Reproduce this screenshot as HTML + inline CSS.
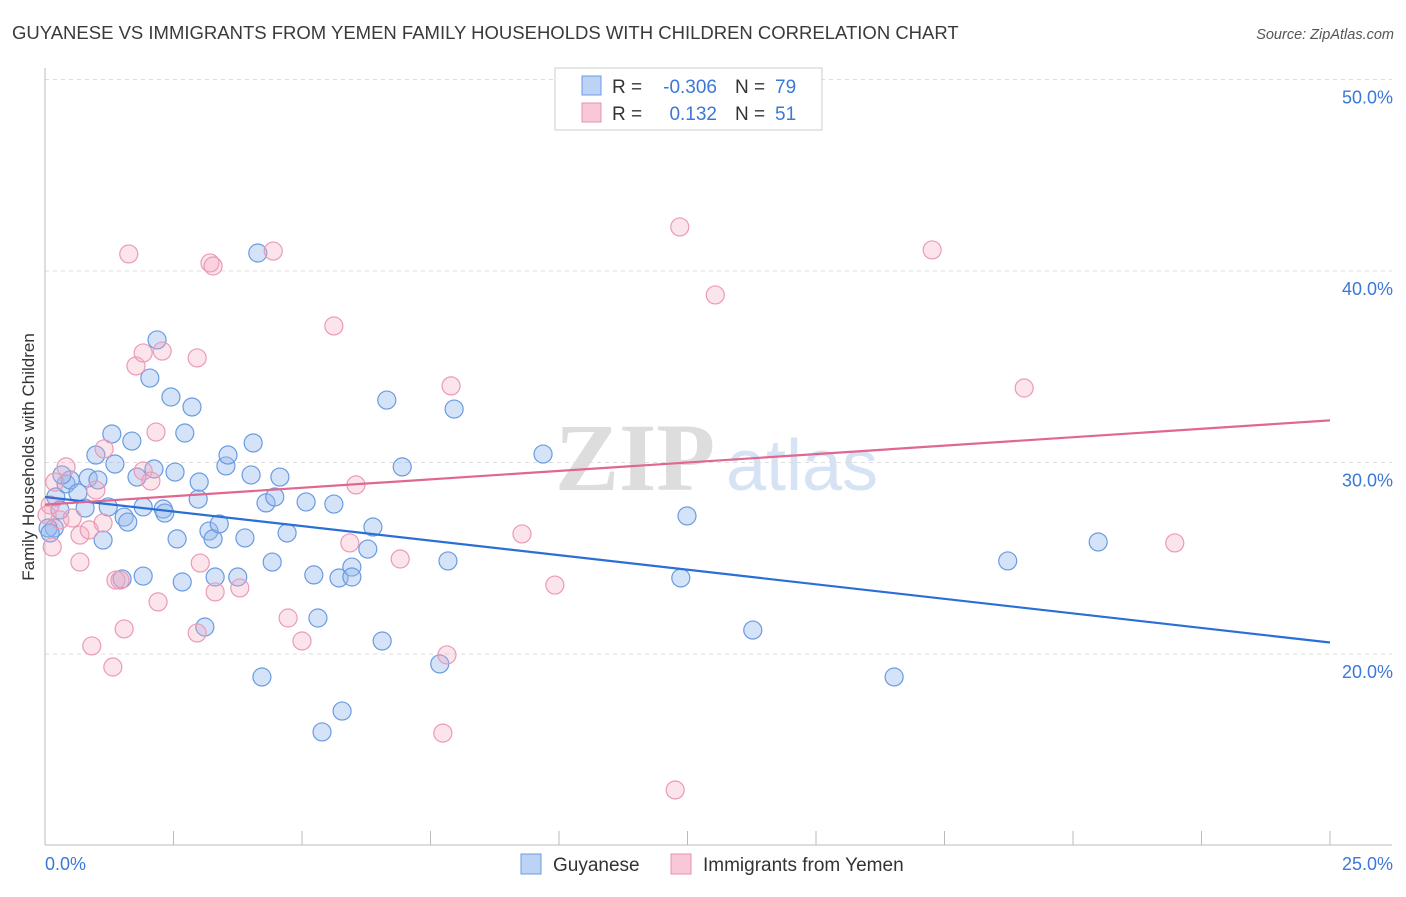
<!DOCTYPE html>
<html><head><meta charset="utf-8"><style>
body{margin:0;background:#fff;font-family:"Liberation Sans",sans-serif}
</style></head><body>
<svg id="chart" width="1406" height="892" xmlns="http://www.w3.org/2000/svg" font-family="Liberation Sans, sans-serif">
<text x="12" y="39" font-size="18.5" fill="#3a3a3a">GUYANESE VS IMMIGRANTS FROM YEMEN FAMILY HOUSEHOLDS WITH CHILDREN CORRELATION CHART</text>
<text x="1394" y="39" font-size="14.5" fill="#555" text-anchor="end" font-style="italic">Source: ZipAtlas.com</text>
<g>
<text x="635" y="490" font-size="96" fill="#ddd" text-anchor="middle" font-family="Liberation Serif, serif" font-weight="bold">ZIP</text>
<text x="802" y="490" font-size="72" fill="#d5e3f5" text-anchor="middle">atlas</text>
</g>
<g id="grid"></g>
<g id="axes"></g>
<g id="marks"></g>
<text transform="translate(34,457) rotate(-90)" font-size="17" fill="#333" text-anchor="middle">Family Households with Children</text>
<g>
<rect x="555" y="68" width="267" height="62" fill="#fff" stroke="#ccc"/>
<rect x="582" y="76" width="19" height="19" fill="#bcd3f5" stroke="#6a9be0"/>
<rect x="582" y="103" width="19" height="19" fill="#f9c8d6" stroke="#e890b0"/>
<text x="612" y="93" font-size="19" fill="#333">R =</text>
<text x="717" y="93" font-size="19" fill="#3b78d8" text-anchor="end">-0.306</text>
<text x="735" y="93" font-size="19" fill="#333">N =</text>
<text x="775" y="93" font-size="19" fill="#3b78d8">79</text>
<text x="612" y="120" font-size="19" fill="#333">R =</text>
<text x="717" y="120" font-size="19" fill="#3b78d8" text-anchor="end">0.132</text>
<text x="735" y="120" font-size="19" fill="#333">N =</text>
<text x="775" y="120" font-size="19" fill="#3b78d8">51</text>
</g>
<g>
<rect x="521" y="854" width="20" height="20" fill="#bcd3f5" stroke="#6a9be0"/>
<text x="553" y="871" font-size="19" fill="#333">Guyanese</text>
<rect x="671" y="854" width="20" height="20" fill="#f9c8d6" stroke="#e890b0"/>
<text x="703" y="871" font-size="19" fill="#333">Immigrants from Yemen</text>
</g>
</svg>
<script>
const yTicks=[20,30,40,50];
const yTickLabels=["20.0%","30.0%","40.0%","50.0%"];
const xTickLabels=["0.0%","25.0%"];
const blueX=[.21,.18,.29,.41,.49,.64,.78,.84,.99,1.03,1.13,1.23,1.30,1.36,1.50,1.54,1.61,1.69,1.79,1.91,1.91,2.04,2.12,2.18,2.30,2.33,2.45,2.53,2.57,2.67,2.72,2.86,2.98,3.00,3.11,3.19,3.27,3.31,3.39,3.52,3.56,3.75,3.89,4.01,4.05,4.14,4.22,4.30,4.42,4.47,4.57,4.71,5.08,5.23,5.31,5.39,5.62,5.72,5.78,5.97,5.97,6.28,6.38,6.56,6.65,6.95,7.68,7.84,7.96,9.69,12.37,12.49,13.77,16.52,18.73,20.49,.06,.10,.33];
const blueY=[28.20,26.58,27.52,28.88,29.09,28.41,27.62,29.19,30.39,29.09,25.95,27.68,31.49,29.92,23.92,27.15,26.89,31.12,29.24,27.68,24.07,34.41,29.66,36.40,27.57,27.36,33.42,29.50,26.01,23.76,31.54,32.90,28.09,28.98,21.41,26.42,26.01,24.02,26.79,29.82,30.39,24.02,26.06,29.35,31.02,40.94,18.80,27.89,24.80,28.20,29.24,26.32,27.94,24.13,21.88,15.93,27.83,23.97,17.02,24.54,24.02,25.48,26.63,20.68,33.26,29.77,19.48,24.86,32.79,30.44,23.97,27.21,21.25,18.80,24.86,25.85,26.58,26.32,29.35];
const pinkX=[.14,.19,.29,.41,.53,.68,.68,.86,.91,.99,1.13,1.15,1.32,1.38,1.54,1.63,1.77,1.91,1.91,2.06,2.16,2.20,2.28,2.96,2.96,3.02,3.21,3.27,3.31,3.79,4.44,4.73,5.00,5.62,5.93,6.05,6.91,7.74,7.82,7.90,9.28,9.92,12.26,12.35,13.04,17.26,19.05,21.98,.04,.10,1.46];
const pinkY=[25.59,28.98,27.00,29.77,27.10,26.21,24.80,26.48,20.42,28.56,26.84,30.71,19.32,23.86,21.31,40.89,35.04,35.72,29.56,29.03,31.59,22.72,35.82,35.46,21.10,24.75,40.42,40.26,23.24,23.45,41.04,21.88,20.68,37.13,25.80,28.83,24.96,15.87,19.95,34.00,26.27,23.60,12.90,42.30,38.75,41.10,33.89,25.80,27.26,27.78,23.86];
const blueTrend=[28.2,20.6];
const pinkTrend=[27.8,32.2];
const NS="http://www.w3.org/2000/svg";
const X=v=>45+v/25*1285;
const Y=v=>654-(v-20)*19.15;
function mk(tag,attrs,parent){const e=document.createElementNS(NS,tag);for(const k in attrs)e.setAttribute(k,attrs[k]);parent.appendChild(e);return e;}
const grid=document.getElementById('grid'),axes=document.getElementById('axes'),marks=document.getElementById('marks');
yTicks.forEach((t,i)=>{
 const l=mk('line',{x1:45,x2:1392,y1:Y(t),y2:Y(t),stroke:'#ddd','stroke-dasharray':'4,4'},grid);
 
 
 const tx=mk('text',{x:1393,y:Y(t)+24,'font-size':18,fill:'#3b78d8','text-anchor':'end'},axes);
 tx.textContent=yTickLabels[i];
 
 
});
const ax=mk('line',{x1:45,x2:45,y1:68,y2:845,stroke:'#bbb'},axes);


const bx=mk('line',{x1:45,x2:1392,y1:845,y2:845,stroke:'#bbb'},axes);


for(let i=1;i<=10;i++){const v=i*2.5;const t=mk('line',{x1:X(v),x2:X(v),y1:831,y2:845,stroke:'#bbb'},axes);
 
 }
[[0,45,'start'],[25,1393,'end']].forEach((d,i)=>{const t=mk('text',{x:d[1],y:870,'font-size':18,fill:'#3b78d8','text-anchor':d[2]},axes);t.textContent=xTickLabels[i];
 
 });
function pts(xs,ys,fill,stroke,name){xs.forEach((x,i)=>{const c=mk('circle',{cx:X(x),cy:Y(ys[i]),r:9,fill:fill,stroke:stroke,'stroke-width':1.2},marks);
 
 });}
pts(blueX,blueY,'rgba(150,185,240,0.4)','#6a9be0','guyanese-point');
pts(pinkX,pinkY,'rgba(245,165,190,0.3)','#eb9ab8','yemen-point');
const bl=mk('line',{x1:X(0),y1:Y(blueTrend[0]),x2:X(25),y2:Y(blueTrend[1]),stroke:'#2a6fd6','stroke-width':2.2},marks);


const pl=mk('line',{x1:X(0),y1:Y(pinkTrend[0]),x2:X(25),y2:Y(pinkTrend[1]),stroke:'#e0678f','stroke-width':2.2},marks);


</script>
</body></html>
